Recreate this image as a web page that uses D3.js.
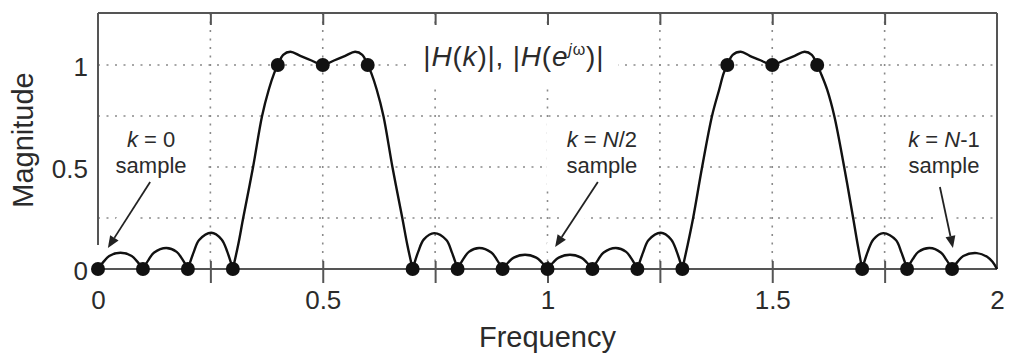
<!DOCTYPE html>
<html>
<head>
<meta charset="utf-8">
<script src="https://cdn.jsdelivr.net/npm/d3@7"></script>
<style>
html,body{margin:0;padding:0;background:#fff;}
svg{display:block;}
text{font-family:"Liberation Sans",Arial,Helvetica,sans-serif;fill:#2b2b2b;}
</style>
</head>
<body>
<svg id="chart" width="1010" height="355"></svg>
<script>
// ---------- data ----------
const sampleFreq = [0,0.1,0.2,0.3,0.4,0.5,0.6,0.7,0.8,0.9,1.0,1.1,1.2,1.3,1.4,1.5,1.6,1.7,1.8,1.9];
const sampleMag  = [0,0,0,0,1,1,1,0,0,0,0,0,0,0,1,1,1,0,0,0];

const curveFreq = [
  0, 0.0125, 0.025, 0.05, 0.075, 0.0875,
  0.1, 0.1125, 0.125, 0.152, 0.175, 0.1875,
  0.2, 0.2125, 0.225, 0.252, 0.275, 0.2875,
  0.3, 0.312, 0.323, 0.345, 0.365, 0.38, 0.392, 0.4, 0.412, 0.428, 0.45, 0.475, 0.5,
  0.525, 0.55, 0.572, 0.588, 0.6, 0.608, 0.62, 0.635, 0.655, 0.677, 0.688,
  0.7, 0.7125, 0.725, 0.748, 0.775, 0.7875,
  0.8, 0.8125, 0.825, 0.848, 0.875, 0.8875,
  0.9, 0.9125, 0.925, 0.95, 0.975, 0.9875,
  1.0, 1.0125, 1.025, 1.05, 1.075, 1.0875,
  1.1, 1.1125, 1.125, 1.152, 1.175, 1.1875,
  1.2, 1.2125, 1.225, 1.252, 1.275, 1.2875,
  1.3, 1.312, 1.324, 1.344, 1.366, 1.382, 1.392, 1.4, 1.412, 1.43, 1.45, 1.475, 1.5,
  1.525, 1.55, 1.572, 1.588, 1.6, 1.608, 1.622, 1.638, 1.66, 1.68, 1.69,
  1.7, 1.7125, 1.725, 1.747, 1.775, 1.7875,
  1.8, 1.8125, 1.825, 1.85, 1.875, 1.8875,
  1.9, 1.9125, 1.925, 1.955, 1.978, 1.99,
  2.0
];
const curveMag = [
  0, 0.036, 0.064, 0.08, 0.064, 0.036,
  0, 0.045, 0.081, 0.103, 0.084, 0.048,
  0, 0.08, 0.142, 0.178, 0.145, 0.085,
  0, 0.12, 0.25, 0.5, 0.75, 0.88, 0.96, 1.0, 1.05, 1.065, 1.045, 1.022, 1.0,
  1.022, 1.045, 1.065, 1.05, 1.0, 0.96, 0.88, 0.75, 0.5, 0.25, 0.12,
  0, 0.085, 0.145, 0.176, 0.142, 0.08,
  0, 0.048, 0.084, 0.103, 0.081, 0.045,
  0, 0.032, 0.056, 0.07, 0.056, 0.032,
  0, 0.032, 0.056, 0.07, 0.056, 0.032,
  0, 0.045, 0.081, 0.103, 0.084, 0.048,
  0, 0.08, 0.142, 0.178, 0.145, 0.085,
  0, 0.12, 0.25, 0.5, 0.75, 0.88, 0.96, 1.0, 1.05, 1.065, 1.045, 1.022, 1.0,
  1.022, 1.045, 1.065, 1.05, 1.0, 0.96, 0.88, 0.75, 0.5, 0.25, 0.12,
  0, 0.085, 0.145, 0.176, 0.142, 0.08,
  0, 0.048, 0.084, 0.103, 0.081, 0.045,
  0, 0.036, 0.064, 0.078, 0.06, 0.035,
  0
];

const xTickValues  = [0.25,0.5,0.75,1,1.25,1.5,1.75];
const xLabelValues = [0,0.5,1,1.5,2];
const xLabels      = ["0","0.5","1","1.5","2"];
const yLabelValues = [0,0.5,1];
const yLabels      = ["0","0.5","1"];
const yGridValues  = [0.25,0.5,0.75,1];

const xTitle = "Frequency";
const yTitle = "Magnitude";

// annotations: k value, label anchor (freq), arrow start and tip (freq, mag)
const annoKVal  = ["0", "N/2", "N-1"];
const annoX     = [0.118, 1.121, 1.882];
const arrowFrom = [[0.116,0.426],[1.112,0.426],[1.873,0.402]];
const arrowTo   = [[0.022,0.103],[1.017,0.108],[1.902,0.103]];

// ---------- layout ----------
const svg = d3.select("#chart");
const L = 98, R = 997, T = 13, B = 269;
const x = d3.scaleLinear().domain([0,2]).range([L,R]);
const y = d3.scaleLinear().domain([0,1]).range([B,65]);

const gridColor = "#8a8a8a";
const frameColor = "#555";

// grid
const grid = svg.append("g");
grid.selectAll(".vg").data(xTickValues).join("line")
  .attr("x1",d=>x(d)).attr("x2",d=>x(d)).attr("y1",T).attr("y2",B)
  .attr("stroke",gridColor).attr("stroke-width",1.6).attr("stroke-dasharray","2,6.5");
grid.selectAll(".hg").data(yGridValues).join("line")
  .attr("x1",L).attr("x2",R).attr("y1",d=>y(d)).attr("y2",d=>y(d))
  .attr("stroke",gridColor).attr("stroke-width",1.6).attr("stroke-dasharray","2,6.5");

const boxLayer = svg.append("g");
const haloLayer = svg.append("g");
const frameLayer = svg.append("g");
const arrowLayer = svg.append("g");
const curveLayer = svg.append("g");
const textLayer = svg.append("g");

// frame
frameLayer.append("line").attr("x1",L).attr("x2",R).attr("y1",T).attr("y2",T)
  .attr("stroke",frameColor).attr("stroke-width",2);
frameLayer.append("line").attr("x1",R).attr("x2",R).attr("y1",T).attr("y2",B)
  .attr("stroke",frameColor).attr("stroke-width",2);
frameLayer.append("line").attr("x1",L).attr("x2",L).attr("y1",T).attr("y2",245)
  .attr("stroke",frameColor).attr("stroke-width",2);

// axes
const xTickAxis = frameLayer.append("g").attr("transform",`translate(0,${B})`)
  .call(d3.axisBottom(x).tickValues(xTickValues).tickSize(14).tickFormat(""));
xTickAxis.select(".domain").attr("stroke",frameColor).attr("stroke-width",2)
  .attr("d",`M${L},0H${R}`);
xTickAxis.selectAll(".tick line").attr("y1",-8).attr("stroke",frameColor).attr("stroke-width",2);

const xTopAxis = frameLayer.append("g").attr("transform",`translate(0,${T})`)
  .call(d3.axisTop(x).tickValues(xTickValues).tickSize(-12).tickFormat(""));
xTopAxis.select(".domain").remove();
xTopAxis.selectAll(".tick line").attr("stroke",frameColor).attr("stroke-width",2);

const xLabelAxis = textLayer.append("g").attr("transform",`translate(0,${B})`)
  .call(d3.axisBottom(x).tickValues(xLabelValues).tickSize(0).tickPadding(22)
    .tickFormat((d,i)=>xLabels[i]));
xLabelAxis.select(".domain").remove();
xLabelAxis.selectAll("text").attr("font-size",26).attr("font-family",null).attr("fill","#2b2b2b");

const yLabelAxis = textLayer.append("g").attr("transform",`translate(${L},0)`)
  .call(d3.axisLeft(y).tickValues(yLabelValues).tickSize(0).tickPadding(10)
    .tickFormat((d,i)=>yLabels[i]));
yLabelAxis.select(".domain").remove();
yLabelAxis.selectAll("text").attr("font-size",26).attr("font-family",null)
  .attr("dy","0.42em").attr("fill","#2b2b2b");

// axis titles
textLayer.append("text").attr("x",x(1)).attr("y",347).attr("text-anchor","middle")
  .attr("font-size",29).text(xTitle);
textLayer.append("text").attr("transform",`translate(33,${140}) rotate(-90)`)
  .attr("text-anchor","middle").attr("font-size",29).text(yTitle);

// title
const title = textLayer.append("text").attr("x",x(0.925)).attr("y",y(0.995))
  .attr("text-anchor","middle").attr("font-size",28).attr("letter-spacing",0.8);
title.append("tspan").text("|");
title.append("tspan").attr("font-style","italic").text("H");
title.append("tspan").text("(");
title.append("tspan").attr("font-style","italic").text("k");
title.append("tspan").text(")|, |");
title.append("tspan").attr("font-style","italic").text("H");
title.append("tspan").text("(");
title.append("tspan").attr("font-style","italic").text("e");
title.append("tspan").attr("font-style","italic").attr("font-size",16).attr("dy",-11).text("j");
title.append("tspan").attr("font-size",16).text("ω");
title.append("tspan").attr("dy",11).text(")|");

// annotation labels
const annoGroups = [];
annoKVal.forEach((kv,i)=>{
  const g = textLayer.append("g");
  const t1 = g.append("text").attr("x",x(annoX[i])).attr("y",147).attr("text-anchor","middle").attr("font-size",22);
  t1.append("tspan").attr("font-style","italic").text("k");
  t1.append("tspan").text(" = ");
  if (kv === "0") {
    t1.append("tspan").text("0");
  } else {
    t1.append("tspan").attr("font-style","italic").text("N");
    t1.append("tspan").text(kv.slice(1));
  }
  g.append("text").attr("x",x(annoX[i])).attr("y",173).attr("text-anchor","middle").attr("font-size",22).text("sample");
  annoGroups.push(g);
});

// white boxes behind labels
function whiteBox(node, px, py) {
  const b = node.getBBox();
  boxLayer.append("rect").attr("x",b.x-px).attr("y",b.y-py)
    .attr("width",b.width+2*px).attr("height",b.height+2*py).attr("fill","#fff");
}
whiteBox(title.node(), 14, 14);
annoGroups.forEach(g=>whiteBox(g.node(), 20, 8));

// arrows
arrowFrom.forEach((f,i)=>{
  const t = arrowTo[i];
  const x1 = x(f[0]), y1 = y(f[1]), x2 = x(t[0]), y2 = y(t[1]);
  haloLayer.append("line").attr("x1",x1).attr("y1",y1).attr("x2",x2).attr("y2",y2)
    .attr("stroke","#fff").attr("stroke-width",18).attr("stroke-linecap","round");
  const ang = Math.atan2(y2-y1, x2-x1);
  const hl = 12, hw = 5;
  const bx = x2 - hl*Math.cos(ang), by = y2 - hl*Math.sin(ang);
  arrowLayer.append("line").attr("x1",x1).attr("y1",y1).attr("x2",bx).attr("y2",by)
    .attr("stroke","#222").attr("stroke-width",1.8);
  const px = -Math.sin(ang)*hw, py = Math.cos(ang)*hw;
  arrowLayer.append("path")
    .attr("d",`M${x2},${y2}L${bx+px},${by+py}L${bx-px},${by-py}Z`).attr("fill","#222");
});

// curve, split at zero (cusp) points
const pts = curveFreq.map((f,i)=>[f, curveMag[i]]);
const segs = [];
let cur = [];
pts.forEach(p=>{
  cur.push(p);
  if (p[1] === 0 && cur.length > 1) { segs.push(cur); cur = [p]; }
});
if (cur.length > 1) segs.push(cur);
const line = d3.line().x(d=>x(d[0])).y(d=>y(d[1])).curve(d3.curveCatmullRom.alpha(0.5));
curveLayer.selectAll("path.seg").data(segs).join("path")
  .attr("d",line).attr("fill","none").attr("stroke","#111").attr("stroke-width",2.4)
  .attr("stroke-linejoin","round");

// sample dots
curveLayer.selectAll("circle").data(sampleFreq).join("circle")
  .attr("cx",d=>x(d)).attr("cy",(d,i)=>y(sampleMag[i])).attr("r",7).attr("fill","#111");
</script>
</body>
</html>
